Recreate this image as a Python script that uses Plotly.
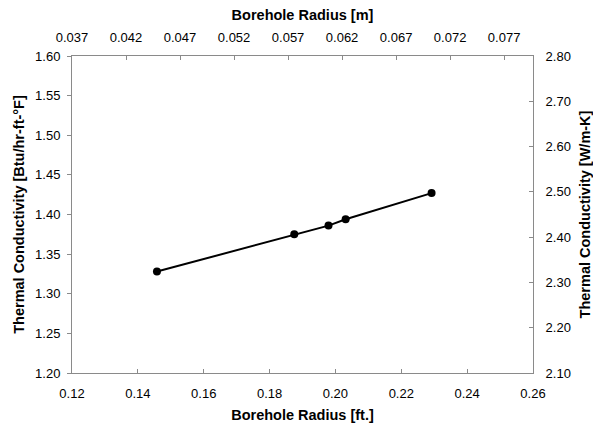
import plotly.graph_objects as go

# Data (borehole radius in ft, thermal conductivity in Btu/hr-ft-F)
radius_ft = [0.1458, 0.1875, 0.1979, 0.2031, 0.2292]
conductivity = [1.328, 1.375, 1.386, 1.394, 1.427]

# Axes ranges / ticks
x_range = [0.12, 0.26]
y_range = [1.20, 1.60]
y2_range = [2.10, 2.80]
FT_TO_M = 0.3048
x2_range = [x_range[0] * FT_TO_M, x_range[1] * FT_TO_M]
x2_ticktext = ["0.037", "0.042", "0.047", "0.052", "0.057", "0.062", "0.067", "0.072", "0.077"]
x2_tickvals = [x2_range[0] + 0.005 * i for i in range(len(x2_ticktext))]

FONT = "Liberation Sans, Arial, sans-serif"
AXCOL = "#8a8a8a"
tickfont = dict(family=FONT, size=13, color="black")
titlefont = dict(family=FONT, size=14.5, color="black", weight="bold")

fig = go.Figure()
fig.add_trace(go.Scatter(
    x=radius_ft, y=conductivity, mode="lines+markers",
    line=dict(color="black", width=2),
    marker=dict(color="black", size=8),
    showlegend=False, xaxis="x", yaxis="y", cliponaxis=False,
))
# invisible trace to activate secondary axes
fig.add_trace(go.Scatter(
    x=[x2_range[0]], y=[y2_range[0]], mode="markers",
    marker=dict(opacity=0), showlegend=False, hoverinfo="skip",
    xaxis="x2", yaxis="y2",
))

common = dict(showgrid=False, zeroline=False, showline=True, linecolor=AXCOL,
              linewidth=1, tickcolor=AXCOL, ticklen=4, tickfont=tickfont,
              automargin=False)

fig.update_layout(
    width=593, height=425,
    margin=dict(l=72, r=60, t=56, b=52),
    paper_bgcolor="white", plot_bgcolor="white",
    xaxis=dict(range=x_range, dtick=0.02, tickformat=".2f", ticks="inside",
               title=dict(text="Borehole Radius [ft.]", font=titlefont, standoff=10),
               ticklabelstandoff=8, **common),
    xaxis2=dict(range=x2_range, overlaying="x", side="top", anchor="y",
                tickvals=x2_tickvals, ticktext=x2_ticktext, ticks="inside",
                title=dict(text="Borehole Radius [m]", font=titlefont, standoff=5),
                ticklabelstandoff=8, **common),
    yaxis=dict(range=y_range, dtick=0.05, tickformat=".2f", ticks="outside",
               title=dict(text="Thermal Conductivity [Btu/hr-ft-°F]", font=titlefont, standoff=7),
               ticklabelstandoff=4, **common),
    yaxis2=dict(range=y2_range, dtick=0.10, tickformat=".2f", overlaying="y", side="right",
                anchor="x", ticks="inside",
                title=dict(text="Thermal Conductivity [W/m-K]", font=titlefont, standoff=14),
                ticklabelstandoff=9, **common),
)

fig.write_html("out.html")
